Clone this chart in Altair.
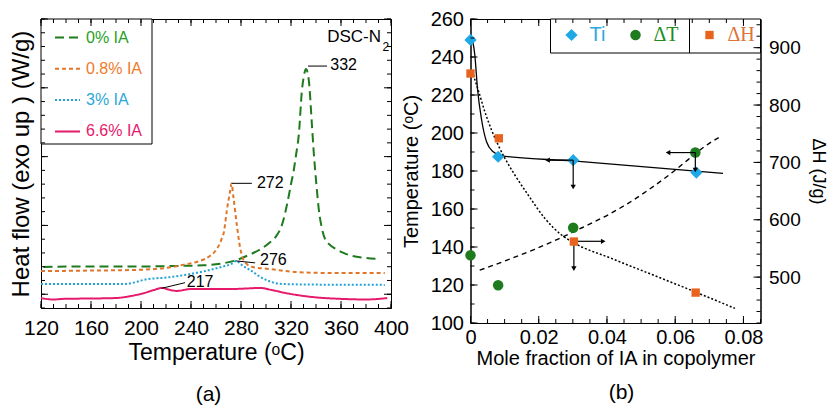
import altair as alt
import pandas as pd

FONT = "Liberation Sans"
SERIF = "Liberation Serif"

# ---------------- panel (a): DSC curves ----------------
series_a = ["0% IA", "0.8% IA", "3% IA", "6.6% IA"]
line_colors_a = ["#1d7a1d", "#e0762a", "#21a3d3", "#e6196b"]
text_colors_a = ["#25a025", "#f07a2a", "#2aa8d8", "#e8186a"]

t_0 = [122, 150, 200, 230, 250, 265, 275, 285, 295, 303, 308, 313, 317, 320, 322, 324,
       326.3, 328.7, 330.3, 332, 334.3, 336.7, 338.3, 340.3, 342.4, 344.7, 347.2, 351,
       355.4, 362, 369, 380, 391]
hf_0 = [0.099, 0.101, 0.101, 0.103, 0.105, 0.112, 0.122, 0.140, 0.162, 0.188, 0.210, 0.255,
        0.330, 0.400, 0.445, 0.505, 0.582, 0.738, 0.793, 0.818, 0.775, 0.618, 0.509, 0.400,
        0.302, 0.240, 0.201, 0.180, 0.166, 0.150, 0.139, 0.132, 0.128]

t_08 = [120, 160, 193, 219, 235, 245, 251, 256, 260, 264, 266.5, 268.6, 271.3, 272.4, 274,
        276.6, 279.3, 283.3, 290, 302, 330, 360, 395]
hf_08 = [0.084, 0.086, 0.088, 0.095, 0.108, 0.118, 0.128, 0.142, 0.160, 0.195, 0.230, 0.302,
         0.375, 0.402, 0.351, 0.254, 0.169, 0.115, 0.098, 0.092, 0.079, 0.077, 0.077]

t_3 = [120, 150, 185, 193, 203, 212, 219, 235, 251, 265, 272.6, 276, 281, 288.7, 295, 302.3,
       308, 315, 340, 395]
hf_3 = [0.037, 0.037, 0.037, 0.041, 0.053, 0.058, 0.060, 0.070, 0.084, 0.100, 0.111, 0.121,
        0.105, 0.084, 0.064, 0.048, 0.040, 0.037, 0.035, 0.034]

t_66 = [120, 130, 137, 150, 179, 192.5, 203, 210, 217, 222, 228.6, 240, 250, 272.6, 285, 295,
        305, 315, 337, 361, 380, 397]
hf_66 = [-0.014, -0.019, -0.017, -0.016, -0.014, -0.006, 0.005, 0.015, 0.023, 0.017, 0.012,
         0.019, 0.019, 0.019, 0.021, 0.023, 0.015, 0.005, -0.010, -0.017, -0.019, -0.014]

# peak annotations
ann_label = ["332", "272", "276", "217"]
ann_T = [351.4, 292.7, 295.2, 236.6]
ann_HF = [0.832, 0.405, 0.123, 0.0445]
lead_T1 = [333.6, 272.6, 276.0, 216.6]
lead_HF1 = [0.829, 0.403, 0.121, 0.0216]
lead_T2 = [348.8, 288.7, 291.3, 235.2]
lead_HF2 = [0.829, 0.403, 0.114, 0.042]

tag_main = "DSC-N"
tag_sub = "2"
tag_T = [392.0, 393.2]
tag_HF = [0.933, 0.897]

a_x_ticks = list(range(120, 401, 10))
a_x_major = list(range(120, 401, 40))
a_y_ticks = [round(-0.05 + 0.05 * i, 2) for i in range(22)]
a_y_major = [0, 0.25, 0.5, 0.75, 1.0]

# ---------------- panel (b) ----------------
series_b = ["Ti", "ΔT", "ΔH"]
colors_b = ["#1ea9e6", "#1e7b1e", "#e8641e"]
text_colors_b = ["#2aa9e0", "#218c21", "#dc7338"]
shapes_b = ["diamond", "circle", "square"]
sizes_b = [150, 70, 120]

ti_x = [0, 0.0081, 0.0301, 0.0662]
ti_T = [249, 187.5, 185.7, 179.2]
dt_x = [0, 0.0081, 0.0301, 0.0659]
dt_T = [135.7, 119.9, 150.1, 189.7]
dh_x = [0, 0.0083, 0.0303, 0.066]
dh_H = [855, 742, 562, 473]

ti_fit_x = [0.0005, 0.00126, 0.00205, 0.0032, 0.0047, 0.00665, 0.0091, 0.03, 0.074]
ti_fit_T = [249.6, 241.2, 223.3, 207.5, 195.4, 190.1, 188.0, 185.3, 178.7]
dt_fit_x = [0.0027, 0.0091, 0.0188, 0.0257, 0.0325, 0.0404, 0.0462, 0.0521, 0.0579, 0.0638,
            0.0687, 0.0731]
dt_fit_T = [127.8, 132.0, 138.8, 144.2, 150.0, 157.0, 163.0, 170.0, 177.5, 186.0, 193.0, 198.0]
dh_fit_x = [0.0008, 0.00226, 0.0042, 0.0081, 0.0101, 0.0130, 0.0169, 0.0218, 0.0267, 0.0306,
            0.0413, 0.0560, 0.0657, 0.0775]
dh_fit_H = [852.4, 826.2, 788.4, 730.3, 707.0, 678.0, 643.2, 602.4, 573.4, 558.8, 532.6,
            497.8, 474.6, 445.5]

arr_x1 = [0.0301, 0.0301, 0.0303, 0.0303, 0.0659, 0.0659]
arr_y1 = [185.7, 185.7, 143.0, 143.0, 189.7, 189.7]
arr_x2 = [0.0226, 0.0301, 0.0389, 0.0303, 0.0579, 0.0659]
arr_y2 = [185.7, 171.6, 143.0, 128.6, 189.7, 180.5]

b_x_ticks = [round(0.005 * i, 3) for i in range(18)]
b_x_major = [0, 0.02, 0.04, 0.06, 0.08]
b_yl_ticks = list(range(100, 261, 10))
b_yl_major = list(range(100, 261, 20))
b_yr_ticks = list(range(420, 951, 20))
b_yr_major = list(range(500, 901, 100))

# ---------------- sizes ----------------
WA, HA = 350, 289
WB, HB = 290, 304
MINOR, MAJOR = 4, 7


def cond_expr(keys, vals):
    s = f"'{vals[-1]}'"
    for k, v in reversed(list(zip(keys[:-1], vals[:-1]))):
        s = f"datum.label === '{k}' ? '{v}' : ({s})"
    return s


def one_row():
    return pd.DataFrame({"k": [0]})


# ---------------- scales & axes (shared by every layer) ----------------
xs_a = alt.Scale(domain=[120, 400], nice=False, zero=False)
ys_a = alt.Scale(domain=[-0.05, 1.0], nice=False, zero=False)
ax_a_x = alt.Axis(values=a_x_major, title="Temperature (ᵒC)", ticks=False, tickSize=0,
                  labelFontSize=21, titleFontSize=23, labelPadding=9.5, titlePadding=3,
                  labelFlush=False, labelOverlap=False)
ax_a_y = alt.Axis(labels=False, ticks=False, tickSize=0, title="Heat flow (exo up ) (W/g)",
                  titleFontSize=24, titlePadding=7.5)

xs_b = alt.Scale(domain=[0, 0.085], nice=False, zero=False)
yl_b = alt.Scale(domain=[100, 260], nice=False, zero=False)
yr_b = alt.Scale(domain=[420, 950], nice=False, zero=False)
ax_b_x = alt.Axis(values=b_x_major, format="~g", title="Mole fraction of IA in copolymer",
                  ticks=False, tickSize=0, labelFontSize=20, titleFontSize=20, labelPadding=4,
                  titlePadding=1, labelFlush=False, labelOverlap=False)
ax_b_yl = alt.Axis(values=b_yl_major, title="Temperature (ᵒC)", ticks=False, tickSize=0,
                   labelFontSize=20, titleFontSize=20, labelPadding=7, titlePadding=8.6,
                   labelFlush=False, labelOverlap=False)
ax_b_yr = alt.Axis(orient="right", values=b_yr_major, title="ΔH (J/g)", ticks=False, tickSize=0,
                   labelFontSize=19, titleFontSize=18, labelPadding=8, titlePadding=8.6,
                   labelFlush=False, labelOverlap=False)


def X(field, scale, axis):
    return alt.X(f"{field}:Q", scale=scale, axis=axis)


def Y(field, scale, axis):
    return alt.Y(f"{field}:Q", scale=scale, axis=axis)


def x_edge_ticks(vals, field, scale, axis, H, length):
    df = pd.DataFrame({field: vals})
    base = alt.Chart(df).mark_rule(color="black", strokeWidth=1)
    return [base.encode(x=X(field, scale, axis), y=alt.value(H), y2=alt.value(H - length)),
            base.encode(x=X(field, scale, axis), y=alt.value(0), y2=alt.value(length))]


def y_edge_ticks(vals, field, scale, axis, W, length, left=True, right=True):
    df = pd.DataFrame({field: vals})
    base = alt.Chart(df).mark_rule(color="black", strokeWidth=1)
    out = []
    if left:
        out.append(base.encode(y=Y(field, scale, axis), x=alt.value(0), x2=alt.value(length)))
    if right:
        out.append(base.encode(y=Y(field, scale, axis), x=alt.value(W), x2=alt.value(W - length)))
    return out


# ================= panel (a) =================
frames = []
for name, tt, hh in zip(series_a, [t_0, t_08, t_3, t_66], [hf_0, hf_08, hf_3, hf_66]):
    frames.append(pd.DataFrame({"T": tt, "HF": hh, "series": name}))
df_a = pd.concat(frames, ignore_index=True)

legend_a = alt.Legend(
    title=None, orient="none", legendX=13, legendY=5, direction="vertical",
    symbolType="stroke", symbolSize=625, symbolStrokeWidth=2,
    labelFontSize=16, labelFont=FONT, labelOffset=5, rowPadding=9.3, padding=0,
    labelColor={"expr": cond_expr(series_a, text_colors_a)},
)

legend_box_a = alt.Chart(one_row()).mark_rect(fill="white", stroke="black", strokeWidth=1).encode(
    x=alt.value(0), x2=alt.value(111), y=alt.value(0), y2=alt.value(125))

lines_a = alt.Chart(df_a).mark_line(interpolate="monotone").encode(
    x=X("T", xs_a, ax_a_x),
    y=Y("HF", ys_a, ax_a_y),
    color=alt.Color("series:N", scale=alt.Scale(domain=series_a, range=line_colors_a), legend=legend_a),
    strokeDash=alt.StrokeDash("series:N", scale=alt.Scale(domain=series_a, range=[[9, 5], [4, 3], [2, 2], [1, 0]]), legend=legend_a),
    strokeWidth=alt.StrokeWidth("series:N", scale=alt.Scale(domain=series_a, range=[2.0, 2.0, 1.7, 2.6]), legend=None),
)

df_ann = pd.DataFrame({"label": ann_label, "T": ann_T, "HF": ann_HF,
                       "T1": lead_T1, "HF1": lead_HF1, "T2": lead_T2, "HF2": lead_HF2})
leaders = alt.Chart(df_ann).mark_rule(color="black", strokeWidth=1).encode(
    x=X("T1", xs_a, ax_a_x), y=Y("HF1", ys_a, ax_a_y), x2="T2:Q", y2="HF2:Q")
ann_text = alt.Chart(df_ann).mark_text(align="left", baseline="middle", fontSize=16, font=FONT, color="black").encode(
    x=X("T", xs_a, ax_a_x), y=Y("HF", ys_a, ax_a_y), text="label:N")

df_tag = pd.DataFrame({"txt": [tag_main, tag_sub], "T": tag_T, "HF": tag_HF})
tag_main_mark = alt.Chart(df_tag.iloc[[0]]).mark_text(align="right", baseline="middle", fontSize=17, font=FONT, color="black").encode(
    x=X("T", xs_a, ax_a_x), y=Y("HF", ys_a, ax_a_y), text="txt:N")
tag_sub_mark = alt.Chart(df_tag.iloc[[1]]).mark_text(align="left", baseline="middle", fontSize=12, font=FONT, color="black").encode(
    x=X("T", xs_a, ax_a_x), y=Y("HF", ys_a, ax_a_y), text="txt:N")

layers_a = [legend_box_a, lines_a, leaders, ann_text, tag_main_mark, tag_sub_mark]
layers_a += x_edge_ticks(a_x_ticks, "T", xs_a, ax_a_x, HA, MINOR)
layers_a += x_edge_ticks(a_x_major, "T", xs_a, ax_a_x, HA, MAJOR)
layers_a += y_edge_ticks(a_y_ticks, "HF", ys_a, ax_a_y, WA, MINOR)
layers_a += y_edge_ticks(a_y_major, "HF", ys_a, ax_a_y, WA, MAJOR)

panel_a = alt.layer(*layers_a).properties(
    width=WA, height=HA,
    title=alt.TitleParams("(a)", orient="bottom", fontSize=21, fontWeight="normal", font=FONT,
                          color="black", frame="group", anchor="middle", offset=19, dx=-7.5))

# ================= panel (b) =================
legend_b = alt.Legend(
    title=None, orient="none", legendX=91, legendY=6, direction="horizontal",
    labelFontSize=20, labelOffset=8, columnPadding=20, padding=0, symbolStrokeWidth=0,
    labelColor={"expr": cond_expr(series_b, text_colors_b)},
    labelFont={"expr": f"datum.label === 'Ti' ? '{FONT}' : '{SERIF}'"},
)
color_b = alt.Color("series:N", scale=alt.Scale(domain=series_b, range=colors_b), legend=legend_b)
shape_b = alt.Shape("series:N", scale=alt.Scale(domain=series_b, range=shapes_b), legend=legend_b)
size_b = alt.Size("series:N", scale=alt.Scale(domain=series_b, range=sizes_b), legend=legend_b)

df_ti_fit = pd.DataFrame({"x": ti_fit_x, "T": ti_fit_T})
df_dt_fit = pd.DataFrame({"x": dt_fit_x, "T": dt_fit_T})
df_dh_fit = pd.DataFrame({"x": dh_fit_x, "H": dh_fit_H})

ti_fit = alt.Chart(df_ti_fit).mark_line(color="black", strokeWidth=1.3, interpolate="monotone").encode(
    x=X("x", xs_b, ax_b_x), y=Y("T", yl_b, ax_b_yl))
dt_fit = alt.Chart(df_dt_fit).mark_line(color="black", strokeWidth=1.4, strokeDash=[5, 4], interpolate="monotone").encode(
    x=X("x", xs_b, ax_b_x), y=Y("T", yl_b, ax_b_yl))

df_pts_l = pd.concat([pd.DataFrame({"x": ti_x, "T": ti_T, "series": "Ti"}),
                      pd.DataFrame({"x": dt_x, "T": dt_T, "series": "ΔT"})], ignore_index=True)
pts_l = alt.Chart(df_pts_l).mark_point(filled=True, opacity=1).encode(
    x=X("x", xs_b, ax_b_x), y=Y("T", yl_b, ax_b_yl),
    color=color_b, shape=shape_b, size=size_b)


def head_shape(x1, y1, x2, y2):
    if abs(x2 - x1) > 1e-9:
        return "triangle-left" if x2 < x1 else "triangle-right"
    return "triangle-down" if y2 < y1 else "triangle-up"


df_arr = pd.DataFrame({"x": arr_x1, "T": arr_y1, "x2": arr_x2, "T2": arr_y2})
df_arr["head"] = [head_shape(*r) for r in zip(arr_x1, arr_y1, arr_x2, arr_y2)]
arr_lines = alt.Chart(df_arr).mark_rule(color="black", strokeWidth=1.2).encode(
    x=X("x", xs_b, ax_b_x), y=Y("T", yl_b, ax_b_yl), x2="x2:Q", y2="T2:Q")
arr_heads = alt.Chart(df_arr).mark_point(filled=True, color="black", size=28, opacity=1).encode(
    x=X("x2", xs_b, ax_b_x), y=Y("T2", yl_b, ax_b_yl),
    shape=alt.Shape("head:N", scale=None, legend=None))

legend_box_b = alt.Chart(one_row()).mark_rect(fill="white", stroke="black", strokeWidth=1).encode(
    x=alt.value(80), x2=alt.value(WB), y=alt.value(0), y2=alt.value(34))
legend_div_b = alt.Chart(one_row()).mark_rule(color="black", strokeWidth=1).encode(
    x=alt.value(219), y=alt.value(0), y2=alt.value(34))

left_b = [legend_box_b, legend_div_b, ti_fit, dt_fit, pts_l, arr_lines, arr_heads]
left_b += x_edge_ticks(b_x_ticks, "x", xs_b, ax_b_x, HB, MINOR)
left_b += x_edge_ticks(b_x_major, "x", xs_b, ax_b_x, HB, MAJOR)
left_b += y_edge_ticks(b_yl_ticks, "T", yl_b, ax_b_yl, WB, MINOR, left=True, right=False)
left_b += y_edge_ticks(b_yl_major, "T", yl_b, ax_b_yl, WB, MAJOR, left=True, right=False)

dh_fit = alt.Chart(df_dh_fit).mark_line(color="black", strokeWidth=1.5, strokeDash=[2, 2], interpolate="monotone").encode(
    x=X("x", xs_b, ax_b_x), y=Y("H", yr_b, ax_b_yr))
df_pts_r = pd.DataFrame({"x": dh_x, "H": dh_H, "series": "ΔH"})
pts_r = alt.Chart(df_pts_r).mark_point(filled=True, opacity=1).encode(
    x=X("x", xs_b, ax_b_x), y=Y("H", yr_b, ax_b_yr),
    color=color_b, shape=shape_b, size=size_b)

right_b = [dh_fit, pts_r]
right_b += y_edge_ticks(b_yr_ticks, "H", yr_b, ax_b_yr, WB, MINOR, left=False, right=True)
right_b += y_edge_ticks(b_yr_major, "H", yr_b, ax_b_yr, WB, MAJOR, left=False, right=True)

panel_b = alt.layer(alt.layer(*left_b), alt.layer(*right_b)).resolve_scale(y="independent").properties(
    width=WB, height=HB,
    title=alt.TitleParams("(b)", orient="bottom", fontSize=21, fontWeight="normal", font=FONT,
                          color="black", frame="group", anchor="middle", offset=14, dx=6))

chart = alt.hconcat(panel_a, panel_b, spacing=79.5, bounds="flush").resolve_scale(
    color="independent", shape="independent", size="independent",
    strokeDash="independent", strokeWidth="independent",
).properties(
    padding={"left": 0, "top": 0, "right": 0, "bottom": 0}
).configure(font=FONT).configure_view(
    stroke="black", strokeWidth=1
).configure_axis(
    domainColor="black", domainWidth=1, labelColor="black", titleColor="black",
    titleFontWeight="normal", labelFont=FONT, titleFont=FONT, grid=False,
)

chart.save("out.html", embed_options={"renderer": "svg", "actions": False})
